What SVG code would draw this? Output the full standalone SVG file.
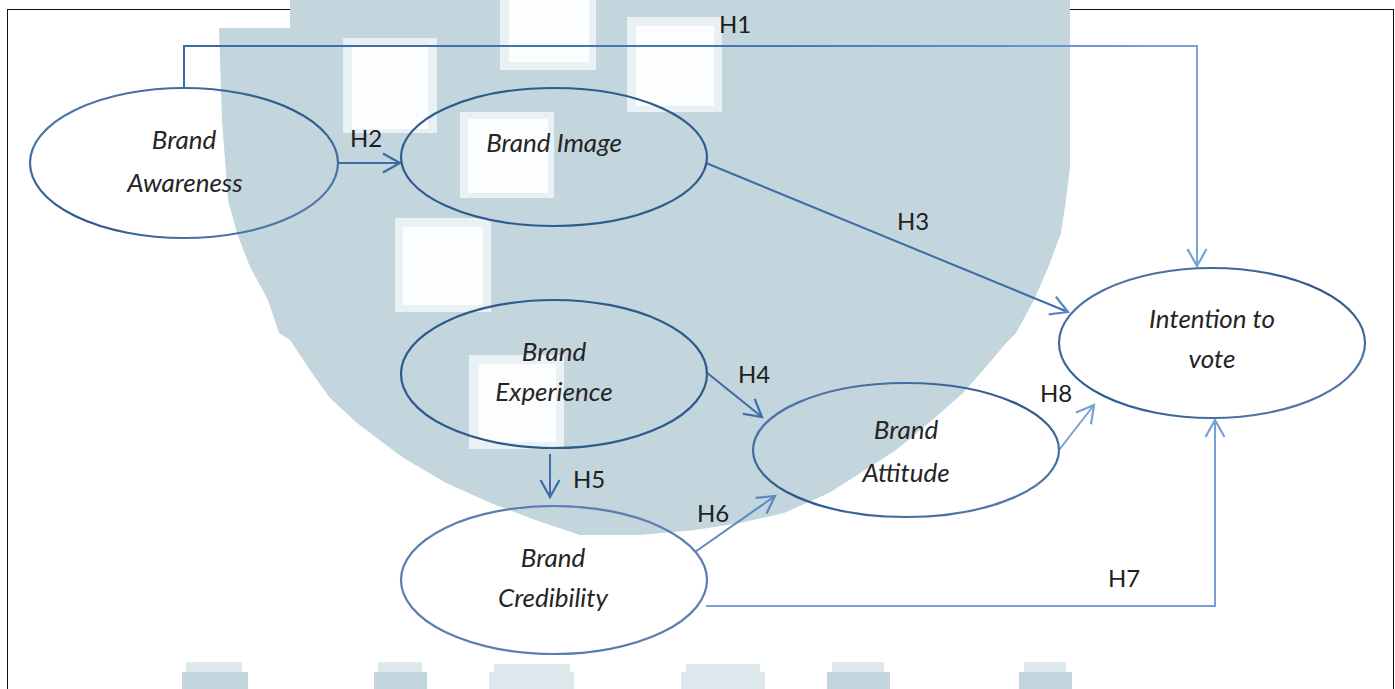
<svg xmlns="http://www.w3.org/2000/svg" width="1395" height="689" viewBox="0 0 1395 689">
  <style>
    .node { fill: none; stroke-width: 2.2; }
    .lbl { font-family: Lato, "Open Sans", sans-serif; font-style: italic; font-size: 26px; fill: #252525; text-anchor: middle; }
    .hyp { font-family: Lato, "Open Sans", sans-serif; font-size: 24px; fill: #1e1e1e; }
    .edge { fill: none; stroke-width: 2; }
    .dark { stroke: #3d6ca6; }
    .light { stroke: #78a0d4; }
    .hole { fill: #fbfdfe; }
    .holeEdge { fill: #eaf1f4; }
    .wm { fill: #c3d5dd; }
    .wmSoft { fill: #dde8ec; }
  </style>
  <defs>
    <linearGradient id="ringGrad" x1="0" y1="0" x2="1" y2="1">
      <stop offset="0" stop-color="#5a80b2"/>
      <stop offset="0.5" stop-color="#2b5789"/>
      <stop offset="1" stop-color="#5f84b4"/>
    </linearGradient>
    <linearGradient id="h1Grad" x1="0" y1="0" x2="1" y2="0">
      <stop offset="0" stop-color="#3b6aa5"/>
      <stop offset="0.6" stop-color="#4a78b2"/>
      <stop offset="1" stop-color="#7ba3d6"/>
    </linearGradient>
    <marker id="arrowDark" markerUnits="userSpaceOnUse" markerWidth="24" markerHeight="24" viewBox="-20 -12 24 24" refX="0" refY="0" orient="auto">
      <path d="M-17,-9.5 L0,0 L-17,9.5" fill="none" stroke="#3d6ca6" stroke-width="2.2"/>
    </marker>
    <marker id="arrowLight" markerUnits="userSpaceOnUse" markerWidth="24" markerHeight="24" viewBox="-20 -12 24 24" refX="0" refY="0" orient="auto">
      <path d="M-17,-9.5 L0,0 L-17,9.5" fill="none" stroke="#78a0d4" stroke-width="2.2"/>
    </marker>
    <marker id="arrowMid" markerUnits="userSpaceOnUse" markerWidth="24" markerHeight="24" viewBox="-20 -12 24 24" refX="0" refY="0" orient="auto">
      <path d="M-17,-9.5 L0,0 L-17,9.5" fill="none" stroke="#5b87c0" stroke-width="2.2"/>
    </marker>
  </defs>

  <rect width="1395" height="689" fill="#ffffff"/>

  <!-- page frame -->
  <rect x="7.5" y="9.5" width="1386" height="700" fill="none" stroke="#111" stroke-width="1"/>

  <!-- background seal watermark -->
  <g id="watermark">
    <polygon class="wm" points="219,28 290,28 290,0 1070,0 1070,167 1066,200 1061,233 1048,268 1034,300 1016,333 1007,342 985,368 963,393 930,422 896,450 862,472 829,493 784,513 740,523 695,530 640,535 580,535 535,520 491,503 446,483 402,457 357,423 330,398 312,373 290,340 279,333 268,300 250,267 237,233 228,200 222,120"/>
    <rect class="holeEdge" x="343" y="38" width="94" height="95"/>
    <rect class="hole" x="352" y="47" width="76" height="82"/>
    <rect class="holeEdge" x="460" y="112" width="94" height="86"/>
    <rect class="hole" x="468" y="119" width="80" height="74"/>
    <rect class="holeEdge" x="395" y="218" width="96" height="94"/>
    <rect class="hole" x="403" y="227" width="80" height="78"/>
    <rect class="holeEdge" x="500" y="0" width="96" height="70"/>
    <rect class="hole" x="509" y="0" width="80" height="62"/>
    <rect class="holeEdge" x="627" y="17" width="95" height="95"/>
    <rect class="hole" x="636" y="26" width="78" height="80"/>
    <rect class="holeEdge" x="469" y="355" width="95" height="94"/>
    <rect class="hole" x="479" y="364" width="77" height="78"/>
    <!-- lettering fragments along the lower edge -->
    <rect class="wmSoft" x="186" y="662" width="56" height="12"/>
    <rect class="wm" x="182" y="672" width="66" height="17"/>
    <rect class="wmSoft" x="378" y="662" width="44" height="12"/>
    <rect class="wm" x="374" y="672" width="53" height="17"/>
    <rect class="wmSoft" x="494" y="664" width="76" height="10"/>
    <rect class="wmSoft" x="489" y="672" width="85" height="17"/>
    <rect class="wmSoft" x="686" y="664" width="74" height="10"/>
    <rect class="wmSoft" x="681" y="672" width="84" height="17"/>
    <rect class="wmSoft" x="832" y="662" width="52" height="12"/>
    <rect class="wm" x="827" y="672" width="63" height="17"/>
    <rect class="wmSoft" x="1024" y="662" width="42" height="12"/>
    <rect class="wm" x="1019" y="672" width="53" height="17"/>
  </g>

  <!-- hypothesis paths -->
  <g id="connectors">
    <path id="h1" class="edge" d="M184,87 V46 H1197 V266" stroke="url(#h1Grad)" marker-end="url(#arrowLight)"/>
    <path id="h2" class="edge dark" d="M338,163 H400" marker-end="url(#arrowDark)"/>
    <path id="h3" class="edge dark" d="M706,163 L1068,312" marker-end="url(#arrowMid)"/>
    <path id="h4" class="edge dark" d="M706,372 L762,417" marker-end="url(#arrowDark)"/>
    <path id="h5" class="edge dark" d="M550,454 V497" marker-end="url(#arrowDark)"/>
    <path id="h6" class="edge" stroke="#5b87c0" d="M695,552 L775,496" marker-end="url(#arrowMid)"/>
    <path id="h7" class="edge light" d="M706,606 H1215 V420" marker-end="url(#arrowLight)"/>
    <path id="h8" class="edge light" d="M1059,450 L1094,405" marker-end="url(#arrowLight)"/>
    <text class="hyp" x="719" y="33">H1</text>
    <text class="hyp" x="350" y="147">H2</text>
    <text class="hyp" x="897" y="230">H3</text>
    <text class="hyp" x="738" y="383">H4</text>
    <text class="hyp" x="573" y="488">H5</text>
    <text class="hyp" x="697" y="522">H6</text>
    <text class="hyp" x="1108" y="587">H7</text>
    <text class="hyp" x="1040" y="402">H8</text>
  </g>

  <g id="brand-awareness">
    <ellipse class="node" cx="184" cy="163" rx="154" ry="75" stroke="url(#ringGrad)"/>
    <text class="lbl" x="184" y="149">Brand</text>
    <text class="lbl" x="185" y="192">Awareness</text>
  </g>

  <g id="brand-image">
    <ellipse class="node" cx="554" cy="157" rx="153" ry="69" stroke="#2e5a8c"/>
    <text class="lbl" x="554" y="152">Brand Image</text>
  </g>

  <g id="brand-experience">
    <ellipse class="node" cx="554" cy="374" rx="153" ry="74" stroke="#2e5a8c"/>
    <text class="lbl" x="554" y="361">Brand</text>
    <text class="lbl" x="554" y="401">Experience</text>
  </g>

  <g id="brand-credibility">
    <ellipse class="node" cx="554" cy="580" rx="153" ry="74" stroke="#5a7fae"/>
    <text class="lbl" x="553" y="567">Brand</text>
    <text class="lbl" x="553" y="607">Credibility</text>
  </g>

  <g id="brand-attitude">
    <ellipse class="node" cx="906" cy="450" rx="153" ry="67" stroke="url(#ringGrad)"/>
    <text class="lbl" x="906" y="439">Brand</text>
    <text class="lbl" x="906" y="482">Attitude</text>
  </g>

  <g id="intention-to-vote">
    <ellipse class="node" cx="1212" cy="343" rx="153" ry="75" stroke="url(#ringGrad)"/>
    <text class="lbl" x="1212" y="328">Intention to</text>
    <text class="lbl" x="1212" y="368">vote</text>
  </g>
</svg>
